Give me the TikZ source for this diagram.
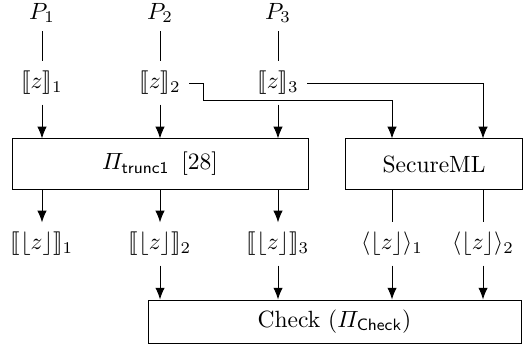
\documentclass[tikz,border=0pt]{standalone}
\usepackage{amsmath}
\usepackage{stmaryrd}
\usetikzlibrary{arrows.meta}
\begin{document}
\begin{tikzpicture}[x=0.4255pt,y=-0.4255pt,
  lbl/.style={inner sep=3.33pt},
  share/.style={inner sep=3.33pt,minimum height=18pt},
  box/.style={draw,inner sep=2pt},
  arr/.style={-{Latex[length=5pt,width=4pt]}}]
\useasboundingbox (0,0) rectangle (532,353);
% parties
\node[lbl] (P1) at (42,13) {$P_1$};
\node[lbl] (P2) at (160,13) {$P_2$};
\node[lbl] (P3) at (278,13) {$P_3$};
% input shares
\node[share] (z1) at (42,83) {$\llbracket z\rrbracket_1$};
\node[share] (z2) at (160,83) {$\llbracket z\rrbracket_2$};
\node[share] (z3) at (278,83) {$\llbracket z\rrbracket_3$};
% boxes
\node[box,minimum width=125.95pt,minimum height=21.3pt] (trunc) at (160,164) {$\varPi_{\mathsf{trunc1}}$\hspace{5pt}[28]};
\node[box,minimum width=75.7pt,minimum height=21.3pt] (sml) at (434,164) {SecureML};
\node[box,minimum width=158.7pt,minimum height=18.3pt] (check) at (334.5,321.5) {Check ($\varPi_{\mathsf{Check}}$)};
% output shares
\node[share] (b1) at (42,244) {$\llbracket\lfloor z\rfloor\rrbracket_1$};
\node[share] (b2) at (160,244) {$\llbracket\lfloor z\rfloor\rrbracket_2$};
\node[share] (b3) at (278,244) {$\llbracket\lfloor z\rfloor\rrbracket_3$};
\node[share] (a1) at (392,244) {$\langle\lfloor z\rfloor\rangle_1$};
\node[share] (a2) at (483,244) {$\langle\lfloor z\rfloor\rangle_2$};
% connectors
\draw (P1) -- (z1);
\draw (P2) -- (z2);
\draw (P3) -- (z3);
\draw[arr] (z1) -- (z1 |- trunc.north);
\draw[arr] (z2) -- (z2 |- trunc.north);
\draw[arr] (z3) -- (z3 |- trunc.north);
\coordinate (s1) at (a1 |- sml.north);
\coordinate (s2) at (a2 |- sml.north);
\draw[arr] (z2.east) -- ++(14,0) -- ++(0,17) -| (s1);
\draw[arr] (z3.east) -| (s2);
\draw[arr] (b1 |- trunc.south) -- (b1);
\draw[arr] (b2 |- trunc.south) -- (b2);
\draw[arr] (b3 |- trunc.south) -- (b3);
\draw (a1 |- sml.south) -- (a1);
\draw (a2 |- sml.south) -- (a2);
\draw[arr] (b2) -- (b2 |- check.north);
\draw[arr] (b3) -- (b3 |- check.north);
\draw[arr] (a1) -- (a1 |- check.north);
\draw[arr] (a2) -- (a2 |- check.north);
\end{tikzpicture}
\end{document}
